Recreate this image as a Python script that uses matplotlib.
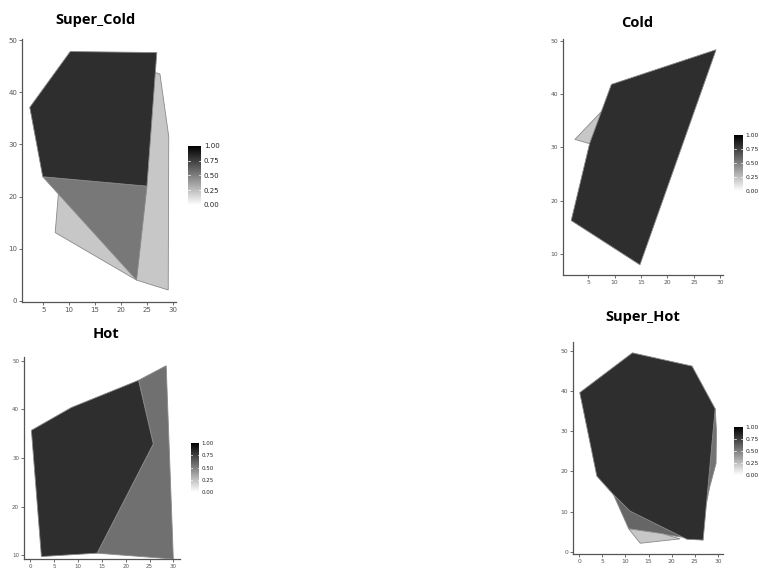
import numpy as np
import matplotlib
matplotlib.use("Agg")
import matplotlib.pyplot as plt
from matplotlib.colors import LinearSegmentedColormap

# polygon data per panel: (x vertices, y vertices, fill value 0..1)
super_cold_x = [[7.9, 7.3, 23.0, 29.1, 29.2, 27.5, 26.5, 18.0],
                [4.9, 25.0, 23.0],
                [2.4, 10.2, 26.9, 25.0, 4.9]]
super_cold_y = [[20.3, 13.1, 4.0, 2.1, 31.5, 43.5, 43.8, 30.0],
                [23.8, 22.0, 4.0],
                [37.1, 47.8, 47.6, 22.0, 23.8]]
super_cold_val = [0.22, 0.53, 0.82]

cold_x = [[2.5, 7.6, 5.6],
          [1.8, 5.3, 9.4, 29.2, 14.8]]
cold_y = [[31.5, 36.8, 30.6],
          [16.3, 30.8, 41.8, 48.3, 8.0]]
cold_val = [0.22, 0.82]

hot_x = [[22.7, 28.5, 30.0, 14.0, 25.8],
         [0.2, 8.6, 22.7, 25.8, 14.0, 2.3]]
hot_y = [[46.0, 49.0, 9.2, 10.4, 32.9],
         [35.7, 40.4, 46.0, 32.9, 10.4, 9.7]]
hot_val = [0.56, 0.82]

super_hot_x = [[26.0, 29.4, 29.7, 29.6, 28.2, 27.5],
               [3.2, 7.4, 10.7, 21.8, 26.8, 20.0],
               [10.7, 13.2, 21.8, 18.0],
               [0.1, 11.5, 24.4, 29.4, 26.8, 23.3, 11.0, 7.4, 3.8]]
super_hot_y = [[30.0, 35.6, 30.0, 22.0, 16.0, 12.0],
               [25.0, 14.2, 5.7, 3.7, 2.9, 10.0],
               [5.7, 2.1, 3.2, 4.5],
               [39.6, 49.5, 46.2, 35.6, 2.9, 3.1, 10.1, 14.2, 18.8]]
super_hot_val = [0.55, 0.6, 0.22, 0.82]

titles = ["Super_Cold", "Cold", "Hot", "Super_Hot"]
cbar_ticks = [0.0, 0.25, 0.5, 0.75, 1.0]

W, H = 759, 575
fig = plt.figure(figsize=(W / 100, H / 100), dpi=100)
cmap = LinearSegmentedColormap.from_list("wb", ["#ffffff", "#000000"])


def box(l, t, r, b):
    return [l / W, 1 - b / H, (r - l) / W, (b - t) / H]


def panel(xs, ys, vals, title, ax_px, xlim, ylim, xticks, yticks, title_px, cb_px, fs):
    ax = fig.add_axes(box(*ax_px))
    for x, y, v in zip(xs, ys, vals):
        ax.fill(x, y, facecolor=cmap(v), edgecolor="#8a8a8a", linewidth=0.6)
    ax.set_xlim(*xlim)
    ax.set_ylim(*ylim)
    ax.set_xticks(xticks)
    ax.set_yticks(yticks)
    ax.tick_params(labelsize=fs, colors="#555555", length=2, width=0.6, pad=1.5)
    for s in ["top", "right"]:
        ax.spines[s].set_visible(False)
    for s in ["left", "bottom"]:
        ax.spines[s].set_color("#555555")
        ax.spines[s].set_linewidth(0.9)
    fig.text(title_px[0] / W, 1 - title_px[1] / H, title, ha="center", va="center",
             fontsize=10.5, fontweight="bold", family="Open Sans")

    cax = fig.add_axes(box(*cb_px))
    grad = np.linspace(0, 1, 256).reshape(-1, 1)
    cax.imshow(grad, cmap=cmap, aspect="auto", origin="lower", extent=[0, 1, 0, 1])
    cax.set_xticks([])
    cax.yaxis.tick_right()
    cax.set_yticks(cbar_ticks)
    cax.set_yticklabels(["%.2f" % t for t in cbar_ticks])
    cax.tick_params(axis="y", labelsize=fs, length=0, pad=2, colors="#222222")
    for t in cbar_ticks[1:-1]:
        cax.plot([0, 0.18], [t, t], color="white", lw=0.5)
        cax.plot([0.82, 1], [t, t], color="white", lw=0.5)
    cax.set_xlim(0, 1)
    cax.set_ylim(0, 1)
    for s in cax.spines.values():
        s.set_visible(False)


panel(super_cold_x, super_cold_y, super_cold_val, titles[0],
      (22, 39, 176, 302), (0.9, 30.6), (-0.2, 50.2),
      [5, 10, 15, 20, 25, 30], [0, 10, 20, 30, 40, 50],
      (95, 20), (188, 146, 201, 205), 5.0)
panel(cold_x, cold_y, cold_val, titles[1],
      (563, 39, 723, 275), (0.25, 30.5), (6.1, 50.3),
      [5, 10, 15, 20, 25, 30], [10, 20, 30, 40, 50],
      (637, 23), (734, 135, 743, 191), 4.3)
panel(hot_x, hot_y, hot_val, titles[2],
      (24, 357, 180, 559), (-1.35, 31.4), (9.2, 50.8),
      [0, 5, 10, 15, 20, 25, 30], [10, 20, 30, 40, 50],
      (106, 334), (191, 443, 199, 492), 4.0)
panel(super_hot_x, super_hot_y, super_hot_val, titles[3],
      (573, 342, 723, 554), (-1.36, 31.1), (-0.57, 52.2),
      [0, 5, 10, 15, 20, 25, 30], [0, 10, 20, 30, 40, 50],
      (643, 317), (734, 427, 743, 475), 4.3)

fig.savefig("out.png", dpi=100)
